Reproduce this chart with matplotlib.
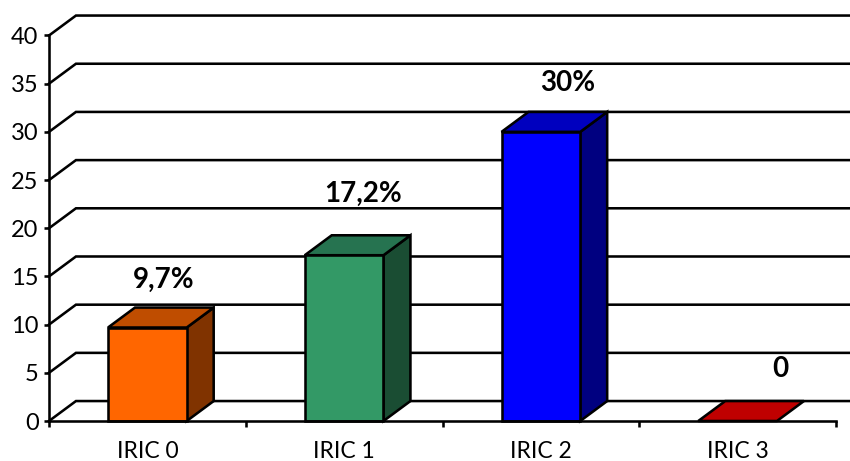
import matplotlib
matplotlib.use("Agg")
import matplotlib.pyplot as plt
from matplotlib.patches import Polygon

plt.rcParams["font.family"] = ["Lato", "DejaVu Sans"]

categories = ["IRIC 0", "IRIC 1", "IRIC 2", "IRIC 3"]
values = [9.7, 17.2, 30, 0]
value_labels = ["9,7%", "17,2%", "30%", "0"]
y_ticks = [0, 5, 10, 15, 20, 25, 30, 35, 40]

front_colors = ["#FF6600", "#339966", "#0000FF", "#FF0000"]
top_colors = ["#BF4D00", "#267350", "#0000BF", "#BF0000"]
side_colors = ["#803300", "#1A4D33", "#000080", "#800000"]

# label offsets from the top of each bar's front face, in points
label_dx = [12, 13.5, 19.5, 30.5]
label_dy = [34.5, 44, 35, 37.5]

BAR_WIDTH = 0.4
DEPTH_X = 0.137
DEPTH_Y = 2.07
LW = 1.85

fig = plt.figure(figsize=(8.5, 4.61), dpi=100)
ax = fig.add_axes([49 / 850, 1 - 421 / 461, (836 - 49) / 850, (421 - 35.5) / 461])
ax.set_xlim(0, 4)
ax.set_ylim(0, 40)
for name in ("top", "right"):
    ax.spines[name].set_visible(False)
for name in ("left", "bottom"):
    ax.spines[name].set_linewidth(LW)
    ax.spines[name].set_zorder(6)

# back wall grid with the slanted floor/side wall segments
for v in y_ticks:
    ax.plot([0, DEPTH_X, 4.2], [v, v + DEPTH_Y, v + DEPTH_Y], color="black",
            lw=LW, clip_on=False, zorder=1, solid_joinstyle="miter")


def draw_bar(x0, h, front, top, side):
    x1 = x0 + BAR_WIDTH
    style = dict(edgecolor="black", lw=LW, clip_on=False, joinstyle="miter")
    if h > 0:
        ax.add_patch(Polygon([(x0, 0), (x1, 0), (x1, h), (x0, h)], facecolor=front, zorder=4, **style))
        ax.add_patch(Polygon([(x1, 0), (x1 + DEPTH_X, DEPTH_Y), (x1 + DEPTH_X, h + DEPTH_Y), (x1, h)],
                             facecolor=side, zorder=3, **style))
    ax.add_patch(Polygon([(x0, h), (x1, h), (x1 + DEPTH_X, h + DEPTH_Y), (x0 + DEPTH_X, h + DEPTH_Y)],
                         facecolor=top, zorder=3, **style))


for i, h in enumerate(values):
    left = i + 0.5 - BAR_WIDTH / 2
    # an empty bar only shows its top face, drawn in a darker shade
    draw_bar(left, h, front_colors[i], top_colors[i], side_colors[i])
    ax.annotate(value_labels[i], (i + 0.5, h), xytext=(label_dx[i], label_dy[i]),
                textcoords="offset points", ha="center", va="center",
                fontsize=20, fontweight="bold", annotation_clip=False, zorder=7)

ax.set_yticks(y_ticks)
ax.tick_params(axis="y", length=3.5, width=LW, labelsize=17, pad=4)
ax.set_xticks([0, 1, 2, 3, 4])
ax.set_xticklabels([])
ax.tick_params(axis="x", length=4, width=LW)
ax.set_xticks([0.5, 1.5, 2.5, 3.5], minor=True)
ax.set_xticklabels(categories, minor=True, fontsize=16.5)
ax.tick_params(axis="x", which="minor", length=0, pad=14.5)

fig.savefig("out.png", dpi=100, facecolor="white")
